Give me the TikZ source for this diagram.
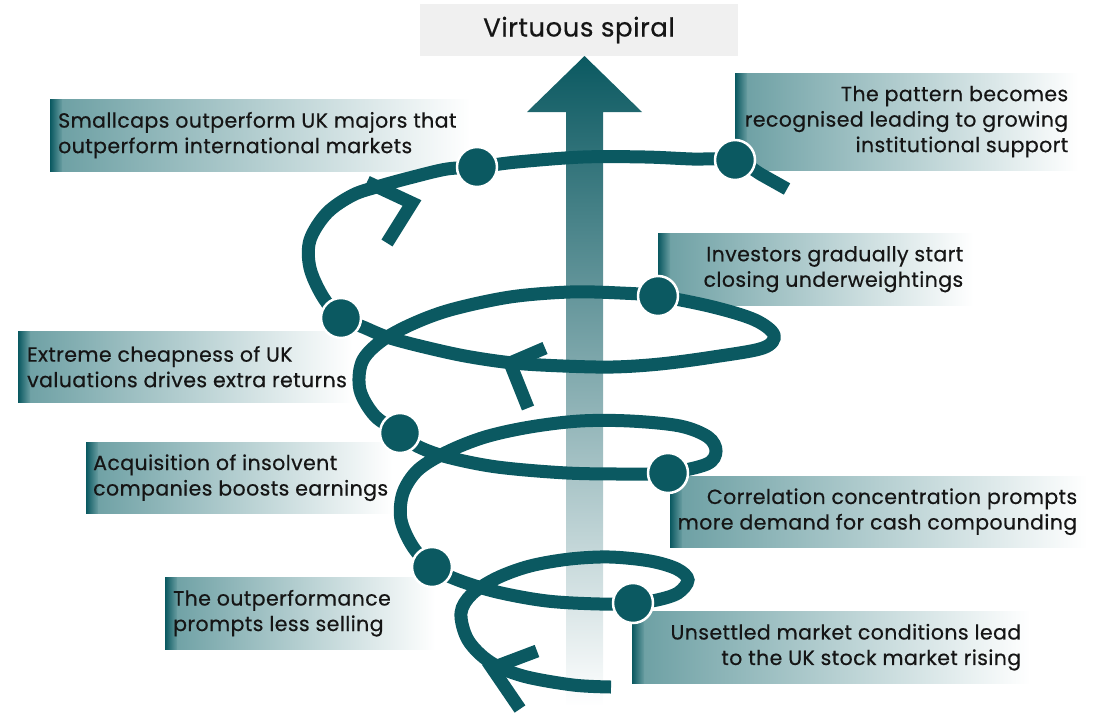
\documentclass[tikz,border=0pt]{standalone}
\usepackage{fontspec}
\setmainfont{Poppins}[LetterSpace=2.0, FakeBold=0.5]
\definecolor{tdark}{HTML}{0B5961}
\definecolor{tmid}{HTML}{6A9EA2}
\definecolor{titlebg}{HTML}{F0F0F0}
\definecolor{txt}{HTML}{151515}
\begin{document}
\begin{tikzpicture}[x=1pt,y=-1pt,
  lblbox/.style={draw=none, inner sep=0pt, anchor=north west,
    path picture={
      \shade[left color=tmid, right color=white] (path picture bounding box.south west) rectangle (path picture bounding box.north east);
      \shade[left color=tdark, right color=tmid] (path picture bounding box.south west) rectangle ([xshift=12pt]path picture bounding box.north west);
    }},
  lbltext/.style={inner sep=0pt, text=txt, font=\fontsize{20.5}{25.5}\selectfont},
  spiral/.style={draw=tdark, line width=13pt},
  dot/.style={circle, fill=tdark, draw=white, line width=2.5pt, minimum size=40pt, inner sep=0pt},
]
\useasboundingbox (0,0) rectangle (1097,712);

% title
\node[fill=titlebg, minimum width=318pt, minimum height=52pt, inner sep=0pt,
      font=\fontsize{26}{30}\selectfont, text=txt] (title) at (579,30) {Virtuous spiral};

% label boxes
\node[lblbox, minimum width=420pt, minimum height=72pt] (b1) at (50,99) {};
\node[lbltext, anchor=west, align=left] (t1) at ([xshift=8pt]b1.west) {Smallcaps outperform UK majors that\\outperform international markets};
\node[lblbox, minimum width=343pt, minimum height=97pt] (b2) at (735,73) {};
\node[lbltext, anchor=east, align=right] (t2) at ([xshift=-10pt]b2.east) {The pattern becomes\\recognised leading to growing\\institutional support};
\node[lblbox, minimum width=315pt, minimum height=72pt] (b3) at (658,233) {};
\node[lbltext, anchor=east, align=right] (t3) at ([xshift=-10pt]b3.east) {Investors gradually start\\closing underweightings};
\node[lblbox, minimum width=334pt, minimum height=71pt] (b4) at (18,331) {};
\node[lbltext, anchor=west, align=left] (t4) at ([xshift=9pt]b4.west) {Extreme cheapness of UK\\valuations drives extra returns};
\node[lblbox, minimum width=306pt, minimum height=71pt] (b5) at (86,442) {};
\node[lbltext, anchor=west, align=left] (t5) at ([xshift=7pt]b5.west) {Acquisition of insolvent\\companies boosts earnings};
\node[lblbox, minimum width=417pt, minimum height=71pt] (b6) at (670,476) {};
\node[lbltext, anchor=east, align=right] (t6) at ([xshift=-10pt]b6.east) {Correlation concentration prompts\\more demand for cash compounding};
\node[lblbox, minimum width=270pt, minimum height=72pt] (b7) at (165,577) {};
\node[lbltext, anchor=west, align=left] (t7) at ([xshift=8pt]b7.west) {The outperformance\\prompts less selling};
\node[lblbox, minimum width=398pt, minimum height=72pt] (b8) at (632,611) {};
\node[lbltext, anchor=east, align=right] (t8) at ([xshift=-9pt]b8.east) {Unsettled market conditions lead\\to the UK stock market rising};

% big upward arrow
\shade[top color=tdark, bottom color=white]
  (566,706) -- (566,112) -- (527,112) -- (584.5,56) -- (642,112) -- (603,112) -- (603,706) -- cycle;

% spiral stations
\coordinate (c1) at (633,603);
\coordinate (c2) at (432,567);
\coordinate (c3) at (668,473);
\coordinate (c4) at (400,433);
\coordinate (c5) at (341,318);
\coordinate (c6) at (658,296);
\coordinate (c7) at (477,167);
\coordinate (c8) at (735,160);
\coordinate (s0) at (611,687);
\coordinate (s9) at (787,189);

\draw[spiral] plot[smooth, tension=0.55] coordinates {
  (s0) (573,685) (523,676) (490,662) (468,640) (461,613) (472,594) (497,578) (530,566)
  (570,559) (610,557) (650,561) (677,569) (688,580) (678,593) (657,600) (c1)
  (600,604) (547,601) (497,592) (458,580) (c2)
  (413,547) (401,520) (403,493) (418,470) (447,452) (485,437) (530,427) (580,421)
  (630,421) (680,426) (708,437) (716,451) (707,464) (c3)
  (630,474) (567,473) (497,467) (447,457) (417,446) (c4)
  (375,416) (360,390) (362,362) (380,342) (410,325) (450,310) (510,297) (570,292)
  (620,293) (c6) (713,307) (755,320) (774,335) (763,348) (713,357) (660,364)
  (613,367) (563,366) (513,363) (465,356) (420,346) (387,337) (363,327) (c5)
  (323,297) (310,268) (310,240) (327,213) (353,195) (380,186) (413,177) (447,169)
  (c7) (517,162) (583,157) (645,157) (692,159) (c8) (762,175) (s9)};

% direction chevrons
\coordinate (h1a) at (537,651); \coordinate (h1) at (492,668); \coordinate (h1b) at (520,709);
\coordinate (h2a) at (545,348); \coordinate (h2) at (510,363); \coordinate (h2b) at (528,408);
\coordinate (h3a) at (367,182); \coordinate (h3) at (412,203); \coordinate (h3b) at (387,243);
\draw[spiral] (h1a) -- (h1) -- (h1b);
\draw[spiral] (h2a) -- (h2) -- (h2b);
\draw[spiral] (h3a) -- (h3) -- (h3b);

% station dots
\foreach \c in {c1,c2,c3,c4,c5,c6,c7,c8} { \node[dot] (d\c) at (\c) {}; }
\end{tikzpicture}
\end{document}
